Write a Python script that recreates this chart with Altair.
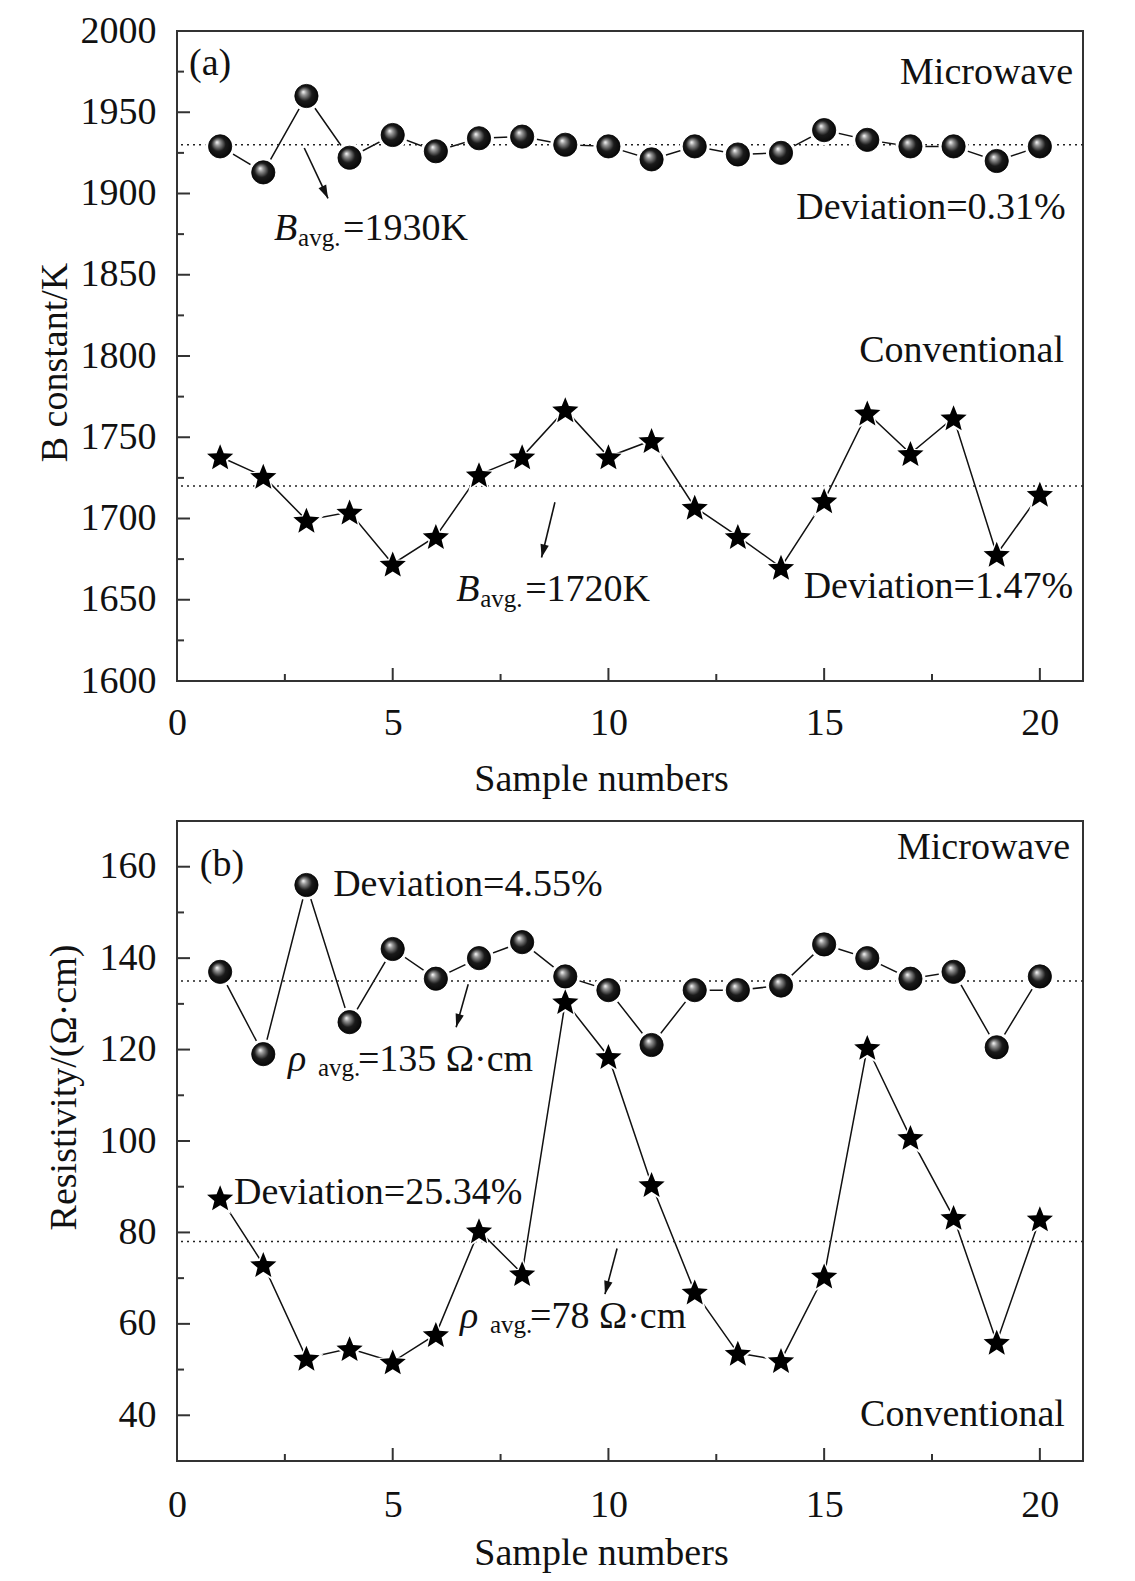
import math
import altair as alt
import pandas as pd

FONT = "Liberation Serif"
INK = "#111111"

samples = list(range(1, 21))

b_microwave = [1929, 1913, 1960, 1922, 1936, 1926, 1934, 1935, 1930, 1929,
               1921, 1929, 1924, 1925, 1939, 1933, 1929, 1929, 1920, 1929]
b_conventional = [1738, 1726, 1699, 1704, 1672, 1689, 1727, 1738, 1767, 1738,
                  1748, 1707, 1689, 1670, 1711, 1765, 1740, 1762, 1678, 1715]
b_avg = [1930, 1720]

r_microwave = [137, 119, 156, 126, 142, 135.5, 140, 143.5, 136, 133,
               121, 133, 133, 134, 143, 140, 135.5, 137, 120.5, 136]
r_conventional = [87.6, 73, 52.5, 54.6, 51.7, 57.7, 80.4, 71, 130.5, 118.5,
                  90.5, 67, 53.6, 52, 70.5, 120.5, 100.8, 83.3, 56, 83]
r_avg = [135, 78]

x_ticks = [0, 5, 10, 15, 20]
x_minor = [2.5, 7.5, 12.5, 17.5]
b_ticks = [1600, 1650, 1700, 1750, 1800, 1850, 1900, 1950, 2000]
b_minor = [1625, 1675, 1725, 1775, 1825, 1875, 1925, 1975]
r_ticks = [40, 60, 80, 100, 120, 140, 160]
r_minor = [50, 70, 90, 110, 130, 150]

W = 906
XDOM = [0, 21]

# five-pointed star symbol path (unit box)
_pts = []
for k in range(10):
    r = 1.0 if k % 2 == 0 else 0.44
    a = math.radians(-90 + 36 * k)
    _pts.append("%.3f,%.3f" % (r * math.cos(a), r * math.sin(a) + 0.1))
STAR = "M" + "L".join(_pts) + "Z"
ARROWHEAD = "M0,0L-0.32,-1L0.32,-1Z"

SPHERE = alt.Gradient(
    gradient="radial",
    stops=[alt.GradientStop(offset=0, color="#ffffff"),
           alt.GradientStop(offset=0.18, color="#9a9a9a"),
           alt.GradientStop(offset=0.5, color="#1a1a1a"),
           alt.GradientStop(offset=1, color="#000000")],
    x1=0.36, y1=0.32, r1=0.0, x2=0.5, y2=0.5, r2=0.62,
)


def panel(mw, cv, avgs, ydom, yticks, yminor, H, ytitle, title_x, title_y,
          xtitle_y, xlabel_pad, texts, arrows):
    df = pd.DataFrame({
        "sample": samples * 2,
        "value": mw + cv,
        "series": ["Microwave"] * 20 + ["Conventional"] * 20,
    })
    xs = alt.Scale(domain=XDOM, nice=False, zero=False)
    ys = alt.Scale(domain=ydom, nice=False, zero=False)
    xaxis = alt.Axis(
        values=x_ticks, format="d", title="Sample numbers", labelFlush=False,
        labelPadding=xlabel_pad, labelBaseline="middle",
        titleX=424, titleY=xtitle_y, titleBaseline="alphabetic",
        titleAlign="center")
    yaxis = alt.Axis(
        values=yticks, format="d", title=ytitle, labelPadding=21,
        titleX=title_x, titleY=title_y, titleBaseline="alphabetic",
        titleAlign="center", titleAngle=270)

    def X(f):
        return alt.X(f, scale=xs, axis=xaxis)

    def Y(f):
        return alt.Y(f, scale=ys, axis=yaxis)

    base = alt.Chart(df)
    layers = [base.mark_line(color="#111", strokeWidth=1.5).encode(
        x=X("sample:Q"), y=Y("value:Q"), detail="series:N")]
    avg_df = pd.DataFrame({"avg": avgs})
    layers.append(alt.Chart(avg_df).mark_rule(
        color="#222", strokeWidth=1.6, strokeDash=[2, 4]).encode(
        y=Y("avg:Q")))
    mwdf = df[df.series == "Microwave"].reset_index(drop=True)
    cvdf = df[df.series == "Conventional"].reset_index(drop=True)

    def pt(d, **kw):
        return alt.Chart(d).mark_point(opacity=1, **kw).encode(
            x=X("sample:Q"), y=Y("value:Q"))

    layers.append(pt(mwdf, shape="circle", size=900, filled=True, color="white"))
    layers.append(pt(cvdf, shape=STAR, size=1300, filled=True, color="white"))
    layers.append(pt(mwdf, shape="circle", size=540, filled=True, fill=SPHERE,
                     stroke="#000", strokeWidth=0.8))
    layers.append(pt(cvdf, shape=STAR, size=760, filled=True, color="#000"))

    for vals, ln in ((yticks, 13), (yminor, 7)):
        layers.append(alt.Chart(pd.DataFrame({"v": vals})).mark_rule(
            color="#333", strokeWidth=2).encode(
            y=Y("v:Q"), x=alt.value(0), x2=alt.value(ln)))
    for vals, ln in ((x_ticks, 13), (x_minor, 7)):
        layers.append(alt.Chart(pd.DataFrame({"v": vals})).mark_rule(
            color="#333", strokeWidth=2).encode(
            x=X("v:Q"), y=alt.value(H), y2=alt.value(H - ln)))

    for (tx, ty, s, size, align, style, dx, dy) in texts:
        layers.append(alt.Chart(pd.DataFrame({"x": [tx], "y": [ty], "t": [s]})).mark_text(
            align=align, baseline="middle", font=FONT, fontSize=size,
            fontStyle=style, dx=dx, dy=dy, color=INK).encode(
            x=X("x:Q"), y=Y("y:Q"), text="t:N"))

    for (x1, y1, x2, y2) in arrows:
        adf = pd.DataFrame({"x1": [x1], "y1": [y1], "x2": [x2], "y2": [y2]})
        layers.append(alt.Chart(adf).mark_rule(color="#111", strokeWidth=1.6).encode(
            x=X("x1:Q"), y=Y("y1:Q"),
            x2=alt.X2("x2:Q"), y2=alt.Y2("y2:Q")))
        pdx = (x2 - x1) * W / (XDOM[1] - XDOM[0])
        pdy = -(y2 - y1) * H / (ydom[1] - ydom[0])
        ang = (-math.degrees(math.atan2(pdx, pdy))) % 360
        layers.append(alt.Chart(adf).mark_point(
            shape=ARROWHEAD, size=700, filled=True,
            color="#111", opacity=1, angle=ang).encode(
            x=X("x2:Q"), y=Y("y2:Q")))

    return alt.layer(*layers).properties(width=W, height=H)


top_texts = [
    (0.28, 1980, "(a)", 38, "left", "normal", 0, 0),
    (20.77, 1974, "Microwave", 38, "right", "normal", 0, 0),
    (20.6, 1891, "Deviation=0.31%", 38, "right", "normal", 0, 0),
    (2.25, 1878, "B", 38, "left", "italic", 0, 0),
    (2.25, 1878, "avg.", 25, "left", "normal", 24, 9),
    (2.25, 1878, "=1930K", 38, "left", "normal", 69, 0),
    (20.56, 1803, "Conventional", 38, "right", "normal", 0, 0),
    (6.47, 1656, "B", 38, "left", "italic", 0, 0),
    (6.47, 1656, "avg.", 25, "left", "normal", 24, 9),
    (6.47, 1656, "=1720K", 38, "left", "normal", 69, 0),
    (20.77, 1658, "Deviation=1.47%", 38, "right", "normal", 0, 0),
]
top_arrows = [(2.95, 1928, 3.5, 1897), (8.76, 1710, 8.45, 1676)]

bot_texts = [
    (0.53, 160.4, "(b)", 38, "left", "normal", 0, 0),
    (20.7, 164.1, "Microwave", 38, "right", "normal", 0, 0),
    (3.62, 156, "Deviation=4.55%", 38, "left", "normal", 0, 0),
    (2.57, 117.7, "ρ", 38, "left", "italic", 0, 0),
    (2.57, 117.7, "avg.", 25, "left", "normal", 30, 8),
    (2.57, 117.7, "=135 Ω·cm", 38, "left", "normal", 70, 0),
    (1.32, 88.6, "Deviation=25.34%", 38, "left", "normal", 0, 0),
    (6.56, 61.5, "ρ", 38, "left", "italic", 0, 0),
    (6.56, 61.5, "avg.", 25, "left", "normal", 30, 8),
    (6.56, 61.5, "=78 Ω·cm", 38, "left", "normal", 70, 0),
    (20.58, 40, "Conventional", 38, "right", "normal", 0, 0),
]
bot_arrows = [(6.75, 134.3, 6.47, 124.9), (10.2, 76.5, 9.92, 66.5)]

top = panel(b_microwave, b_conventional, b_avg, [1600, 2000], b_ticks, b_minor,
            650, "B constant/K", -111, 331, 109, 42, top_texts, top_arrows)
bottom = panel(r_microwave, r_conventional, r_avg, [30, 170], r_ticks, r_minor,
               640, "Resistivity/(Ω·cm)", -102, 266, 103, 44, bot_texts, bot_arrows)

chart = alt.vconcat(top, bottom, spacing=21).properties(
    padding={"left": 27, "top": 3, "right": 5, "bottom": 5}
).configure_view(stroke="#333", strokeWidth=2).configure_axis(
    labelFont=FONT, labelFontSize=38, labelColor=INK,
    titleFont=FONT, titleFontSize=38, titleFontWeight="normal", titleColor=INK,
    domain=False, ticks=False, grid=False,
)

chart.save("out.html", embed_options={"renderer": "svg", "actions": False})
